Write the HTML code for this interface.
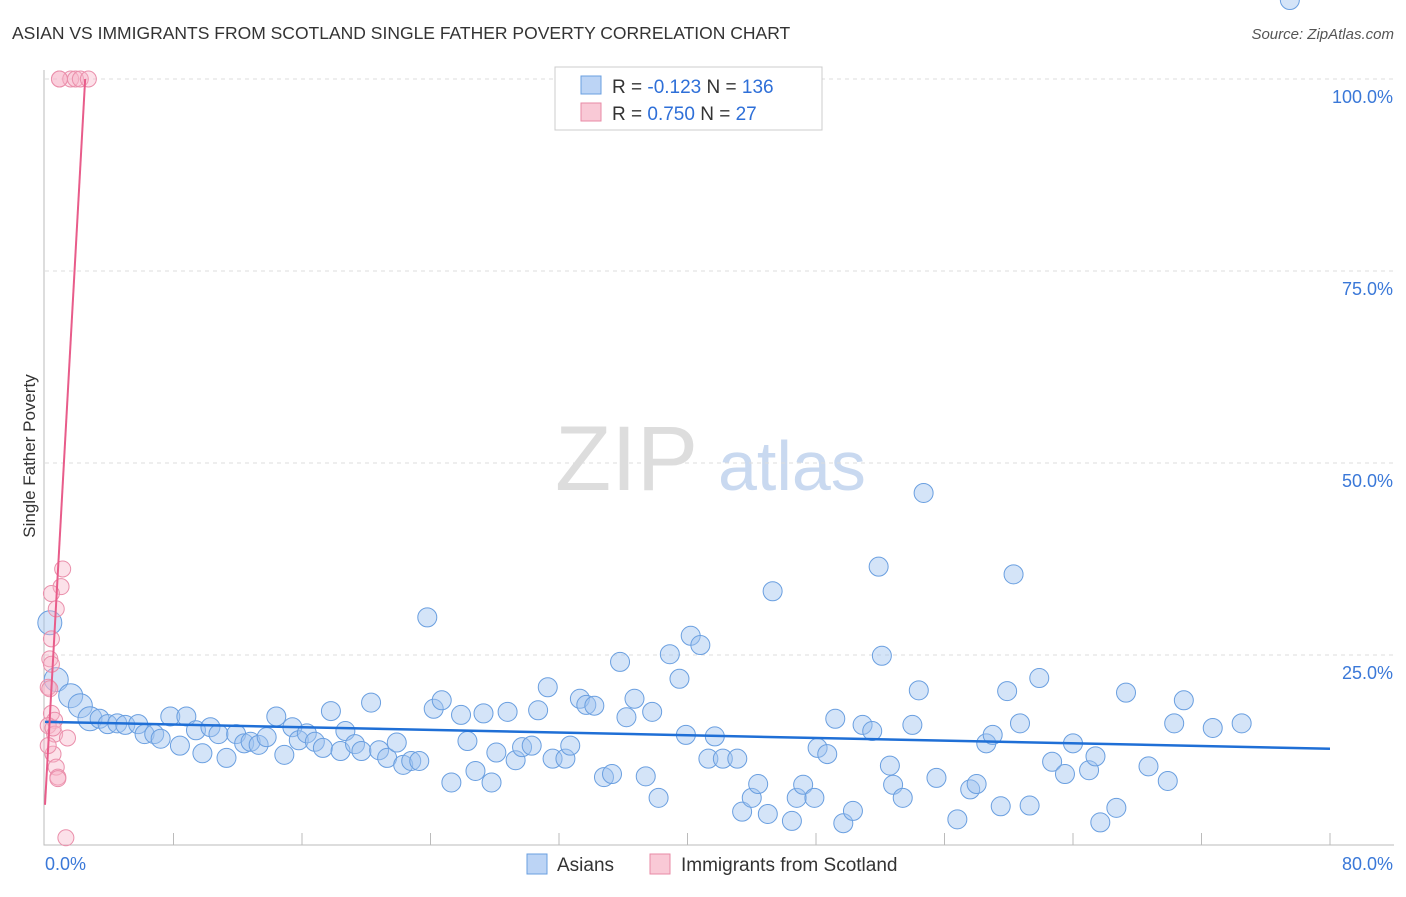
<!DOCTYPE html><html><head><meta charset="utf-8"><style>
body{margin:0;background:#fff;font-family:"Liberation Sans",sans-serif}
svg text{font-family:"Liberation Sans",sans-serif}
</style></head><body>
<svg width="1406" height="892" id="c">
<text x="12" y="39" font-size="17.5" fill="#333">ASIAN VS IMMIGRANTS FROM SCOTLAND SINGLE FATHER POVERTY CORRELATION CHART</text>
<text x="1394" y="39" font-size="15" fill="#555" font-style="italic" text-anchor="end">Source: ZipAtlas.com</text>
<text x="35" y="456" font-size="17" fill="#333" text-anchor="middle" transform="rotate(-90 35 456)">Single Father Poverty</text>
<text x="555" y="490" font-size="92" fill="#ddd" font-family="Liberation Serif">ZIP</text>
<text x="718" y="490" font-size="70" fill="#c9d9f0">atlas</text>
<g id="grid"></g><g id="pts"></g><g id="lines"></g>
<g>
<rect x="555" y="67" width="267" height="63" fill="#fff" stroke="#ccc"/>
<rect x="581" y="76" width="20" height="18" fill="#bcd4f5" stroke="#6a9fe0"/>
<rect x="581" y="103" width="20" height="18" fill="#f9c9d6" stroke="#e88aa6"/>
<text x="612" y="93" font-size="19" fill="#333">R = <tspan fill="#2e6fd8">-0.123</tspan>   N = <tspan fill="#2e6fd8">136</tspan></text>
<text x="612" y="120" font-size="19" fill="#333">R =  <tspan fill="#2e6fd8">0.750</tspan>   N =   <tspan fill="#2e6fd8">27</tspan></text>
</g>
<g>
<rect x="527" y="854" width="20" height="20" fill="#bcd4f5" stroke="#6a9fe0"/>
<text x="557" y="871" font-size="19" fill="#333">Asians</text>
<rect x="650" y="854" width="20" height="20" fill="#f9c9d6" stroke="#e88aa6"/>
<text x="681" y="871" font-size="19" fill="#333">Immigrants from Scotland</text>
</g>
</svg>
<script>
const blueX=[0.3,0.7,1.6,2.2,2.8,3.4,3.9,4.5,5,5.8,6.2,6.8,7.2,7.8,8.4,8.8,9.4,9.8,10.3,10.8,11.3,11.9,12.4,12.8,13.3,13.8,14.4,14.9,15.4,15.8,16.3,16.8,17.3,17.8,18.4,18.7,19.3,19.7,20.3,20.8,21.3,21.9,22.3,22.8,23.3,23.8,24.2,24.7,25.3,25.9,26.3,26.8,27.3,27.8,28.1,28.8,29.3,29.7,30.3,30.7,31.3,31.6,32.4,32.7,33.3,33.7,34.2,34.8,35.3,35.8,36.2,36.7,37.4,37.8,38.2,38.9,39.5,40.2,40.8,39.9,41.3,41.7,42.2,43.1,43.4,44,44.4,45,45.3,46.5,46.8,47.2,47.9,48.1,48.7,49.2,49.7,50.3,50.9,51.5,51.9,52.1,52.6,52.8,53.4,54,54.4,54.7,55.5,56.8,57.6,58,58.6,59,59.5,59.9,60.3,60.7,61.3,61.9,62.7,63.5,64,65,65.4,65.7,66.7,67.3,68.7,69.9,70.3,70.9,72.7,74.5,77.5];
const blueY=[29.2,21.8,19.7,18.4,16.7,16.7,16.0,16.1,15.9,16.0,14.7,14.7,14.1,17.0,13.2,17.0,15.2,12.2,15.6,14.7,11.6,14.7,13.5,13.7,13.3,14.3,17.0,12.0,15.6,13.9,14.8,13.7,12.9,17.7,12.5,15.1,13.4,12.5,18.8,12.6,11.6,13.6,10.7,11.2,11.2,29.9,18.0,19.1,8.4,17.2,13.8,9.9,17.4,8.4,12.3,17.6,11.3,13.0,13.2,17.8,20.8,11.5,11.5,13.2,19.3,18.5,18.4,9.1,9.5,24.1,16.9,19.3,9.2,17.6,6.4,25.1,21.9,27.5,26.3,14.6,11.5,14.4,11.5,11.5,4.6,6.4,8.2,4.3,33.3,3.4,6.4,8.1,6.4,12.9,12.1,16.7,3.1,4.7,15.9,15.1,36.5,24.9,10.6,8.1,6.4,15.9,20.4,46.1,9.0,3.6,7.5,8.2,13.5,14.6,5.3,20.3,35.5,16.1,5.4,22.0,11.1,9.5,13.5,10.0,11.8,3.2,5.1,20.1,10.5,8.6,16.1,19.1,15.5,16.1];
const pinkX=[0.9,1.6,1.9,2.2,2.7,1.1,1.0,0.4,0.7,0.4,0.3,0.4,0.2,0.3,0.4,0.6,0.2,0.6,1.4,0.5,0.7,0.8,0.8,1.3,0.2,0.5,0.9];
const pinkY=[100,100,100,100,100,36.2,33.9,33.0,31.0,27.1,24.5,23.8,20.8,20.6,17.4,16.5,15.8,14.7,14.2,12.1,10.4,9.1,8.9,1.2,13.2,15.5,100];
const X=v=>45+v/80*1285, Y=v=>847-v/100*768;
const NS='http://www.w3.org/2000/svg';
function mk(t,a,p){const e=document.createElementNS(NS,t);for(const k in a)e.setAttribute(k,a[k]);p.appendChild(e);return e;}
const g=document.getElementById('grid');
const yTicks=[25,50,75,100], yLabels=['25.0%','50.0%','75.0%','100.0%'];
yTicks.forEach((t,i)=>{
 const l=mk('line',{x1:45,x2:1394,y1:Y(t),y2:Y(t),stroke:'#ddd','stroke-dasharray':'4 4'},g);
 
 
 const tx=mk('text',{x:1393,y:Y(t)+24,'font-size':18,fill:'#3a78d8','text-anchor':'end'},g);tx.textContent=yLabels[i];
 
 
});
const ax=mk('path',{d:'M44 70 V845 H1394',stroke:'#bbb',fill:'none'},g);


for(let i=1;i<=10;i++){const t=mk('line',{x1:X(i*8),x2:X(i*8),y1:833,y2:845,stroke:'#bbb'},g);
 
 }
[['0.0%',45,'start'],['80.0%',1393,'end']].forEach(d=>{const t=mk('text',{x:d[1],y:870,'font-size':18,fill:'#3a78d8','text-anchor':d[2]},g);t.textContent=d[0];
 
 });
const p=document.getElementById('pts');
blueX.forEach((v,i)=>{const c=mk('circle',{cx:X(v),cy:Y(blueY[i]),r:v<3?12:9.5,fill:'rgba(160,196,240,0.45)',stroke:'#6a9fe0','stroke-width':1},p);
 
 });
pinkX.forEach((v,i)=>{const c=mk('circle',{cx:X(v),cy:Y(pinkY[i]),r:8,fill:'rgba(248,180,200,0.4)',stroke:'#ea8fab','stroke-width':1},p);
 
 });
const L=document.getElementById('lines');
const bl=mk('line',{x1:X(0),y1:Y(16.3),x2:X(80),y2:Y(12.8),stroke:'#1f6fd6','stroke-width':2.5},L);


const pl=mk('line',{x1:X(0),y1:Y(5.5),x2:X(2.5),y2:Y(100),stroke:'#e85c8a','stroke-width':2},L);


</script>
</body></html>
